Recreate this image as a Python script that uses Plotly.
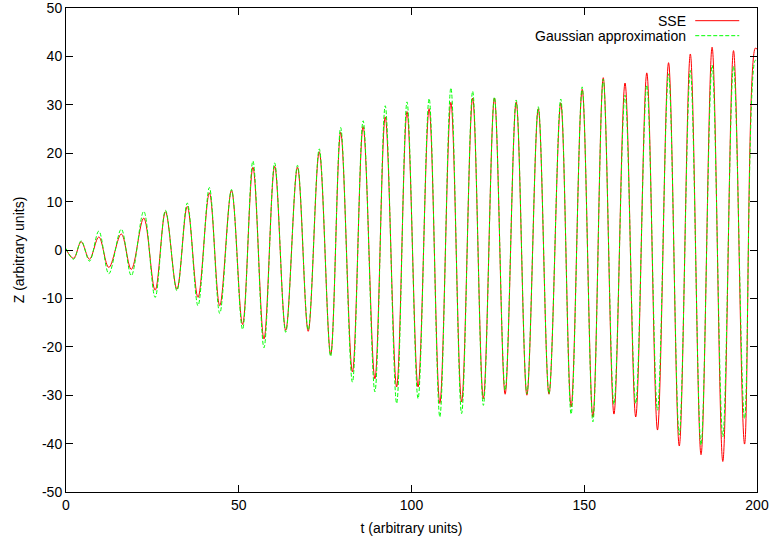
import plotly.graph_objects as go

# Extrema (t, Z)
sse_t = [0.0, 2.2, 4.4, 6.8, 9.5, 12.4, 16.0, 18.9, 22.5, 25.8, 28.8, 32.1, 35.1, 38.2,
         41.5, 44.5, 47.9, 51.1, 54.1, 57.3, 60.4, 63.6, 67.0, 70.1, 73.3, 76.6, 79.5,
         82.9, 86.0, 89.4, 92.4, 95.7, 98.7, 101.9, 105.1, 108.2, 111.4, 114.5, 117.7,
         120.8, 124.0, 127.1, 130.3, 133.4, 136.7, 139.8, 143.2, 146.2, 149.4, 152.5,
         155.5, 158.6, 161.8, 164.9, 168.1, 171.2, 174.4, 177.5, 180.7, 183.8, 187.0,
         190.1, 193.2, 196.4, 199.5, 200.0]
sse_z = [0.1, -1.7, 1.7, -1.9, 2.7, -3.6, 3.3, -4.0, 6.6, -8.3, 7.9, -8.1, 9.0, -9.8,
         11.8, -11.5, 12.3, -15.4, 17.1, -18.4, 17.3, -16.6, 17.1, -16.8, 20.3, -21.6, 24.3,
         -25.2, 25.5, -26.6, 27.5, -28.3, 28.6, -28.3, 29.2, -31.7, 30.5, -31.4, 31.4,
         -30.7, 31.4, -29.8, 30.6, -30.0, 29.2, -29.8, 30.4, -32.4, 33.2, -34.5,
         35.6, -33.9, 34.5, -34.5, 36.6, -37.2, 38.7, -40.5, 40.5, -42.3, 41.9,
         -43.7, 41.2, -40.1, 41.7, 41.5]

gauss_t = sse_t
gauss_z = [0.3, -1.9, 1.9, -2.3, 3.9, -4.9, 4.3, -5.3, 8.0, -9.8, 8.2, -8.4, 9.7, -11.5,
           12.9, -13.1, 12.5, -16.4, 18.4, -20.2, 18.0, -17.0, 17.5, -16.5, 20.9, -22.0, 25.3,
           -27.3, 26.7, -29.3, 29.8, -31.7, 30.6, -30.7, 31.3, -34.5, 33.5, -33.8, 32.8,
           -32.1, 31.6, -29.0, 31.0, -29.7, 29.6, -29.7, 31.2, -33.9, 33.7, -35.5,
           35.3, -31.9, 32.0, -31.7, 34.1, -33.1, 36.4, -38.2, 37.1, -40.3, 38.2,
           -38.6, 38.0, -34.8, 39.2, 39.0]

x_ticks = [0, 50, 100, 150, 200]
x_tick_text = ["0", "50", "100", "150", "200"]
y_ticks = [-50, -40, -30, -20, -10, 0, 10, 20, 30, 40, 50]
y_tick_text = ["-50", "-40", "-30", "-20", "-10", "0", "10", "20", "30", "40", "50"]

FONT = "Liberation Sans, Arial, sans-serif"

fig = go.Figure()
fig.add_trace(go.Scatter(x=sse_t, y=sse_z, mode="lines", name="SSE",
                         line=dict(color="#ff0000", width=1, shape="spline", smoothing=1.0)))
fig.add_trace(go.Scatter(x=gauss_t, y=gauss_z, mode="lines", name="Gaussian approximation",
                         line=dict(color="#00ff00", width=1, dash="4px,2px",
                                   shape="spline", smoothing=1.0)))

axis_common = dict(showline=True, linecolor="black", linewidth=1, mirror="allticks",
                   ticks="inside", ticklen=7, tickcolor="black", tickwidth=1,
                   showgrid=False, zeroline=False, ticklabeloverflow="allow",
                   tickfont=dict(family=FONT, size=14, color="black"))

fig.update_xaxes(range=[0, 200], tickvals=x_ticks, ticktext=x_tick_text,
                 title=dict(text="t (arbitrary units)", font=dict(family=FONT, size=14, color="black"),
                            standoff=11),
                 **axis_common)
fig.update_yaxes(range=[-50, 50], tickvals=y_ticks, ticktext=y_tick_text,
                 title=dict(text="Z (arbitrary units)", font=dict(family=FONT, size=14, color="black"),
                            standoff=14),
                 **axis_common)

# gnuplot-style key: right-aligned text with sample line to its right
legend_items = [("SSE", "#ff0000", "solid", 0.9738),
                ("Gaussian approximation", "#00ff00", "4px,2px", 0.9428)]
for label, color, dash, yp in legend_items:
    fig.add_annotation(xref="paper", yref="paper", x=0.9005, y=yp, text=label,
                       showarrow=False, xanchor="right", yanchor="middle",
                       font=dict(family=FONT, size=14, color="black"))
    fig.add_shape(type="line", xref="paper", yref="paper", x0=0.9106, x1=0.9743, y0=yp, y1=yp,
                  line=dict(color=color, width=1, dash=dash))

fig.update_layout(width=774, height=545, showlegend=False,
                  margin=dict(l=66, r=17, t=8, b=53, autoexpand=False),
                  paper_bgcolor="white", plot_bgcolor="white",
                  font=dict(family=FONT, size=14, color="black"))

fig.write_html("out.html")
